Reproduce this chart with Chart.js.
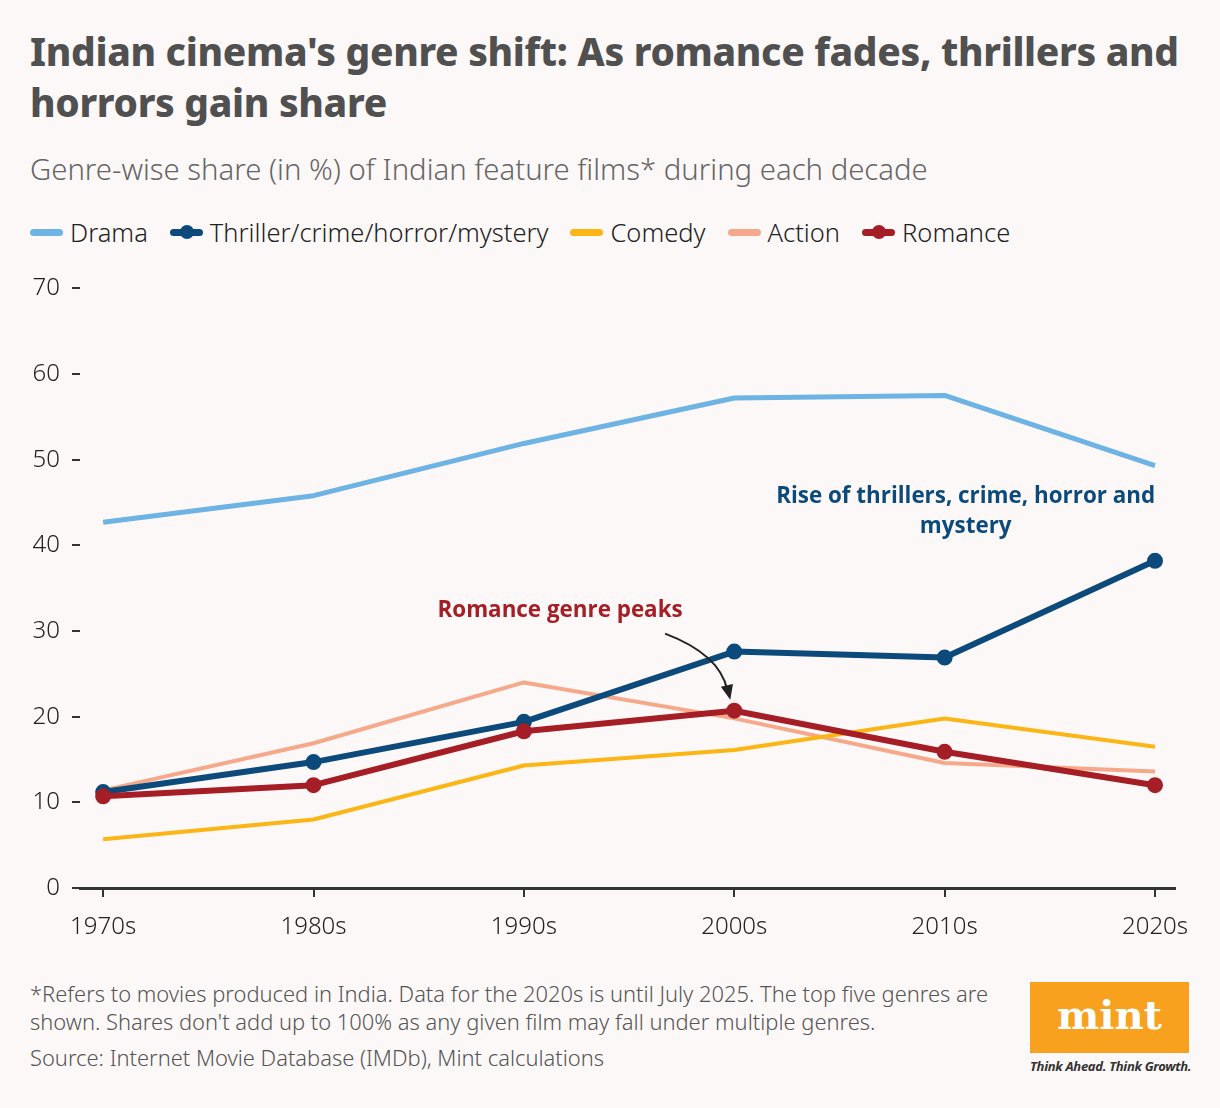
<!DOCTYPE html>
<html>
<head>
<meta charset="utf-8">
<script src="https://cdn.jsdelivr.net/npm/chart.js@4.4.1/dist/chart.umd.min.js"></script>
<style>
  body { margin: 0; background: #fdf8f8; font-family: "Noto Sans", "Open Sans", sans-serif; }
  #wrap { position: relative; width: 1220px; height: 1108px; overflow: hidden; }
  h1 { position: absolute; left: 30px; top: 26px; margin: 0; width: 1190px;
       font-size: 38.8px; line-height: 51px; font-weight: 800; color: #505050; letter-spacing: -0.3px; }
  .sub { position: absolute; left: 30px; top: 149px; font-size: 29.3px; font-weight: 300; color: #666; }
  .legend { position: absolute; left: 30px; top: 215px; display: flex; font-size: 25.5px; font-weight: 300; color: #222; }
  .legend div { display: flex; align-items: center; margin-right: 22px; }
  .sw { position: relative; width: 33px; height: 7px; border-radius: 4px; margin-right: 7px; }
  .sw i { position: absolute; left: 10px; top: -4px; width: 14px; height: 14px; border-radius: 50%; }
  #c { position: absolute; left: 0; top: 262px; }
  .foot { position: absolute; left: 30px; top: 980px; font-size: 21.9px; font-weight: 300; color: #555; line-height: 28px; }
  .src { position: absolute; left: 30px; top: 1043px; font-size: 21.9px; font-weight: 300; color: #555; }
  .logo { position: absolute; left: 1030px; top: 982px; width: 159px; height: 71px; background: #f7a11e;
          color: #fff; font-family: "DejaVu Serif", serif; font-weight: 700; font-size: 40px; text-align: center; line-height: 66px; }
  .tag { position: absolute; left: 1030px; top: 1057px; font-size: 13px; font-weight: 700; font-style: italic; color: #333; letter-spacing: -0.3px; }
</style>
</head>
<body>
<div id="wrap">
  <h1>Indian cinema's genre shift: As romance fades, thrillers and horrors gain share</h1>
  <div class="sub">Genre-wise share (in %) of Indian feature films* during each decade</div>
  <div class="legend" id="legend"></div>
  <canvas id="c" width="1220" height="698"></canvas>
  <div class="foot">*Refers to movies produced in India. Data for the 2020s is until July 2025. The top five genres are<br>shown. Shares don't add up to 100% as any given film may fall under multiple genres.</div>
  <div class="src">Source: Internet Movie Database (IMDb), Mint calculations</div>
  <div class="logo">mint</div>
  <div class="tag">Think Ahead. Think Growth.</div>
</div>
<script>
// decades on the x axis
const decades = ["1970s", "1980s", "1990s", "2000s", "2010s", "2020s"];
const yTicks = [0, 10, 20, 30, 40, 50, 60, 70];

// share (%) per genre
const drama    = [42.7, 45.8, 51.9, 57.2, 57.5, 49.3];
const thriller = [11.2, 14.7, 19.4, 27.6, 26.9, 38.2];
const comedy   = [5.7, 8.0, 14.3, 16.1, 19.8, 16.5];
const action   = [11.4, 16.9, 24.0, 19.8, 14.6, 13.6];
const romance  = [10.7, 12.0, 18.3, 20.7, 15.9, 12.0];

const series = [
  { label: "Drama", data: drama, color: "#6db3e3", width: 5, dot: false, order: 5 },
  { label: "Thriller/crime/horror/mystery", data: thriller, color: "#0c4a7b", width: 6, dot: true, order: 2 },
  { label: "Comedy", data: comedy, color: "#fbb515", width: 4, dot: false, order: 3 },
  { label: "Action", data: action, color: "#f6a98a", width: 4, dot: false, order: 4 },
  { label: "Romance", data: romance, color: "#a51d25", width: 6, dot: true, order: 1 }
];

// html legend
const legend = document.getElementById("legend");
series.forEach(s => {
  legend.innerHTML += `<div><span class="sw" style="background:${s.color}">${s.dot ? `<i style="background:${s.color}"></i>` : ""}</span>${s.label}</div>`;
});

// annotations + arrow, placed through the scales
const notes = {
  id: "notes",
  afterDatasetsDraw(chart) {
    const { ctx, scales: { x, y } } = chart;
    ctx.save();
    ctx.font = "bold 22.4px 'Open Sans', 'Noto Sans', sans-serif";
    ctx.textAlign = "center";
    ctx.textBaseline = "middle";
    ctx.fillStyle = "#0c4a7b";
    const cx = x.getPixelForValue(4.1);
    ctx.fillText("Rise of thrillers, crime, horror and", cx, y.getPixelForValue(45.66));
    ctx.fillText("mystery", cx, y.getPixelForValue(42.16));

    ctx.fillStyle = "#a51d25";
    ctx.fillText("Romance genre peaks", x.getPixelForValue(2.172), y.getPixelForValue(32.4));

    // curved arrow to the romance peak
    const sx = x.getPixelForValue(2.671), sy = y.getPixelForValue(29.7);
    const ex = x.getPixelForValue(3) - 4, ey = y.getPixelForValue(romance[3]) - 11;
    const qx = x.getPixelForValue(2.93), qy = y.getPixelForValue(27.3);
    ctx.strokeStyle = "#222";
    ctx.lineWidth = 2;
    ctx.beginPath();
    ctx.moveTo(sx, sy);
    ctx.quadraticCurveTo(qx, qy, ex - 3, ey - 10);
    ctx.stroke();
    const ang = Math.atan2(ey - qy, ex - qx);
    ctx.fillStyle = "#222";
    ctx.beginPath();
    ctx.moveTo(ex, ey);
    ctx.lineTo(ex - 16 * Math.cos(ang - 0.4), ey - 16 * Math.sin(ang - 0.4));
    ctx.lineTo(ex - 16 * Math.cos(ang + 0.4), ey - 16 * Math.sin(ang + 0.4));
    ctx.closePath();
    ctx.fill();
    ctx.restore();
  }
};

new Chart(document.getElementById("c"), {
  type: "line",
  data: {
    datasets: series.map(s => ({
      label: s.label,
      data: s.data.map((v, i) => ({ x: i, y: v })),
      borderColor: s.color,
      backgroundColor: s.color,
      borderWidth: s.width,
      pointRadius: s.dot ? 5 : 0,
      pointHoverRadius: s.dot ? 5 : 0,
      borderJoinStyle: "round",
      order: s.order,
      tension: 0
    }))
  },
  options: {
    responsive: false,
    animation: false,
    layout: { padding: { top: 10, right: 45, left: 0, bottom: 0 } },
    plugins: { legend: { display: false }, tooltip: { enabled: false } },
    scales: {
      x: {
        type: "linear",
        min: -0.11,
        max: 5.095,
        afterBuildTicks: axis => { axis.ticks = decades.map((d, i) => ({ value: i })); },
        afterFit: axis => { axis.height = 72; },
        ticks: {
          callback: v => decades[v],
          color: "#222",
          font: { family: "'Noto Sans', sans-serif", size: 24, weight: 300 },
          padding: 16,
          maxRotation: 0
        },
        grid: { drawOnChartArea: false, drawTicks: true, tickLength: 9, color: "#333", lineWidth: 2 },
        border: { display: true, color: "#333", width: 3 }
      },
      y: {
        min: 0,
        max: 70,
        afterBuildTicks: axis => { axis.ticks = yTicks.map(v => ({ value: v })); },
        afterFit: axis => { axis.width = 80; },
        ticks: {
          color: "#222",
          font: { family: "'Noto Sans', sans-serif", size: 24, weight: 300 },
          padding: 12
        },
        grid: { drawOnChartArea: false, drawTicks: true, tickLength: 8, color: "#333", lineWidth: 2 },
        border: { display: false }
      }
    }
  },
  plugins: [notes]
});
</script>
</body>
</html>
